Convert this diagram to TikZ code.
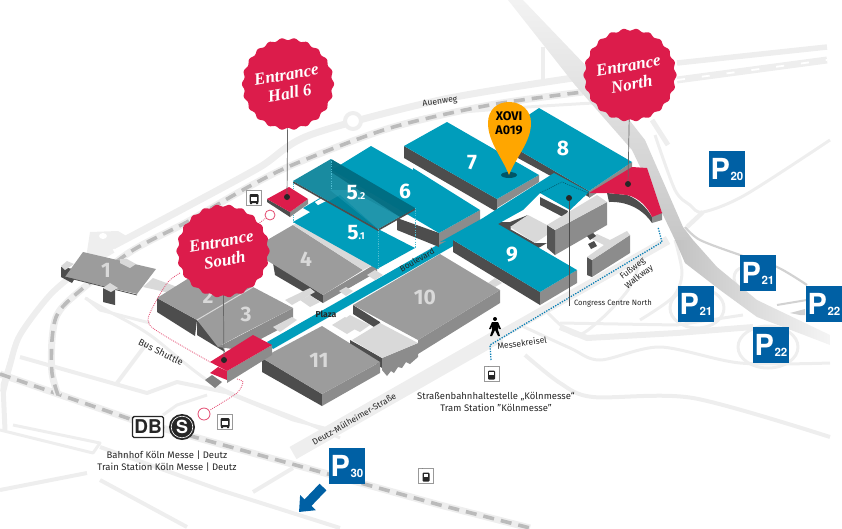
\documentclass[tikz,border=0pt]{standalone}
\usepackage{fontspec}
\setmainfont{Fira Sans}
\newfontfamily\signfont{TeX Gyre Heros}
\newfontfamily\sealfont{Liberation Serif}
\usetikzlibrary{arrows.meta}
\definecolor{hallteal}{HTML}{009DBB}
\definecolor{sealred}{HTML}{DC1C4B}
\definecolor{halltop}{HTML}{9C9C9C}
\definecolor{hallside}{HTML}{8C8C8C}
\definecolor{halldark}{HTML}{4D4D4D}
\definecolor{halllight}{HTML}{D9D9D9}
\definecolor{roadgray}{HTML}{EEEEEE}
\definecolor{railgray}{HTML}{BBBBBB}
\definecolor{parkblue}{HTML}{0060A4}
\definecolor{pinorange}{HTML}{FFA600}
\definecolor{walkblue}{HTML}{0A7FB5}
\tikzset{
  roadthin/.style={draw=roadgray,line width=3pt,line join=round},
  roadwide/.style={draw=roadgray,line width=7pt,line join=round},
  raildash/.style={draw=railgray,line width=3.6pt,dash pattern=on 11pt off 7pt},
  shuttle/.style={draw=sealred!80,line width=.8pt,dash pattern=on .9pt off 1.1pt},
  walkway/.style={draw=walkblue,line width=1.3pt,dash pattern=on 1.3pt off 1.3pt},
  dropline/.style={draw=hallteal!70,line width=.5pt,dash pattern=on 1.2pt off 1.2pt},
  pole/.style={draw=gray!80!black,line width=.7pt},
  markdot/.style={circle,fill=black!85,minimum size=6pt,inner sep=0pt},
  hallno/.style={text=#1,font=\fontsize{21}{21}\selectfont\bfseries,inner sep=0pt},
  maplabel/.style={text=black!85,font=\fontsize{8.6}{10.5}\selectfont,inner sep=0pt,align=center},
  parkbox/.style={fill=parkblue,minimum size=36pt,inner sep=0pt,text=white,font=\signfont\bfseries},
  iconbox/.style={draw=gray!80,fill=white,line width=.8pt,minimum size=15pt,inner sep=0pt},
  sealtext/.style={text=white,font=\sealfont\itshape\bfseries\fontsize{17}{19}\selectfont,align=center,rotate=10,inner sep=0pt},
}
\newcommand{\sealat}[3]{\fill[sealred] plot[domain=0:360,samples=199] ({#1+(#3+1.1*cos(22*\x))*cos(\x)},{#2+(#3+1.1*cos(22*\x))*sin(\x)}) -- cycle;}
\newcommand{\parksign}[4]{\node[parkbox] (#1) at (#2,#3) {\fontsize{29}{29}\selectfont P\kern.5pt\fontsize{11.5}{11.5}\selectfont\raisebox{-1pt}{#4}};}
\newcommand{\busicon}[1]{\fill[black!85,rounded corners=1pt] ([shift={(-4.5pt,-5pt)}]#1) rectangle ([shift={(4.5pt,4pt)}]#1);
  \fill[white] ([shift={(-3.2pt,-3pt)}]#1) rectangle ([shift={(3.2pt,1pt)}]#1);
  \fill[black!85] ([shift={(-4pt,-6pt)}]#1) rectangle ([shift={(-2pt,-4pt)}]#1) ([shift={(2pt,-6pt)}]#1) rectangle ([shift={(4pt,-4pt)}]#1);}
\newcommand{\tramicon}[1]{\fill[black!85,rounded corners=1pt] ([shift={(-3.5pt,-5.5pt)}]#1) rectangle ([shift={(3.5pt,3.5pt)}]#1);
  \fill[white] ([shift={(-2.4pt,-1pt)}]#1) rectangle ([shift={(2.4pt,2.4pt)}]#1);
  \draw[black!85,line width=.6pt] ([shift={(-2.5pt,5.5pt)}]#1) -- ([shift={(2.5pt,5.5pt)}]#1) ([yshift=5.5pt]#1) -- ([yshift=3.5pt]#1);}
\begin{document}
\begin{tikzpicture}[x=1pt,y=-1pt]
\useasboundingbox (0,0) rectangle (842,528);
% roads, north
\draw[roadwide] plot[smooth] coordinates {(113,246) (190,205) (260,167) (310,135) (440,100) (573,78)};
\draw[roadwide,line width=5.5pt] (677,63) -- (827,47);
\draw[roadwide] (677,80) -- (827,60);
\draw[white,line width=1.8pt,dash pattern=on 8pt off 17pt] (677,80) -- (827,60);
\draw[roadthin] plot[smooth] coordinates {(340,145) (420,118) (500,109) (593,103)};
\draw[roadwide,line width=4.5pt] (543,47) -- (543,80);
% roads, west
\draw[roadwide,line width=6pt] plot[smooth] coordinates {(3,392) (10,365) (20,335) (50,295) (80,270) (113,250)};
\fill[roadgray] (90,232) -- (118,231) -- (130,238) -- (100,258) -- (86,258) -- cycle;
\fill[white] (103,236) ellipse (4pt and 3pt);
\draw[roadwide,line width=4pt,fill=white] (353,121) circle (8pt);
\draw[roadthin] (86,298) -- (100,310) -- (150,323);
\draw[roadthin] plot[smooth] coordinates {(85,298) (110,312) (150,335) (215,385) (300,420) (340,438)};
\draw[roadwide,line width=5pt] (17,340) -- (3,385) -- (5,430);
\draw[roadthin,line width=4pt] (20,357) -- (147,393) -- (177,382) -- (225,392);
\draw[roadthin,line width=4pt] (117,383) -- (147,343);
\draw[roadthin] (163,415) -- (177,405) -- (207,395);
\draw[roadthin] (0,430) -- (93,453) -- (100,443) -- (13,425);
\draw[roadthin,line width=4pt] (0,490) -- (87,473);
\draw[roadthin,line width=4pt] (100,480) -- (187,527) (253,492) -- (293,468);
\draw[roadthin,line width=4pt] (100,447) -- (220,490) -- (340,528);
% rails
\draw[roadwide,line width=7pt] (0,374) -- (133,420) -- (440,505) -- (530,528);
\draw[raildash] (0,374) -- (133,420) -- (440,505) -- (530,528);
\draw[roadwide] plot[smooth] coordinates {(58,395) (52,373) (52,340) (57,315) (75,295) (130,252) (187,222) (250,186) (297,163) (390,128) (490,105) (583,92)};
\draw[raildash] plot[smooth] coordinates {(58,395) (52,373) (52,340) (57,315) (75,295) (130,252) (187,222) (250,186) (297,163) (390,128) (490,105) (583,92)};
% roads, centre and east
\draw[roadwide,line width=14pt] (293,453) -- (500,335);
\draw[roadwide,line width=9pt] (500,335) -- (668,240);
\draw[roadthin] (215,388) -- (293,420) -- (340,432);
\draw[roadthin] plot[smooth] coordinates {(655,135) (675,190) (690,205) (703,212) (745,195) (830,140)};
\draw[roadthin,line width=4.5pt] (687,227) -- (703,212);
\draw[roadthin] plot[smooth] coordinates {(675,240) (682,273) (673,297) (640,320)};
\draw[roadthin] plot[smooth] coordinates {(640,262) (628,290) (600,320) (575,335) (545,310)};
\draw[roadthin] plot[smooth] coordinates {(520,325) (570,348) (600,360) (660,347) (740,363) (830,363)};
\draw[roadthin,line width=4pt] plot[smooth] coordinates {(525,355) (560,383) (593,397) (693,398) (830,437)};
\draw[roadwide,line width=6pt] (560,327) -- (587,338) -- (677,333) -- (753,327);
\draw[roadthin] (560,323) -- (677,325) -- (743,315);
\draw[roadthin] (697,308) ellipse (27pt and 20pt) (768,347) ellipse (30pt and 21pt) (742,278) ellipse (8pt and 10pt);
\draw[gray!35,line width=2pt] (777,305) -- (807,300);
\fill[gray!35] (790,313) -- (805,309) -- (805,315) -- (800,315) -- cycle;
\draw[gray!35,line width=2.2pt] plot[smooth] coordinates {(685,227) (700,240) (740,255) (777,267) (807,285)};
% overpass
\shade[top color=black!5,bottom color=black!22] (508,0) -- (575,85) -- (632,150) -- (675,240) -- (693,240) -- (683,227) -- (645,140) -- (590,70) -- (523,0) -- cycle;
\shade[left color=black!24,right color=black!4] (675,240) -- (685,263) -- (720,290) -- (757,317) -- (830,345) -- (830,335) -- (757,300) -- (717,267) -- (693,240) -- cycle;
\draw[roadthin,line width=5pt] (652,120) -- (668,145);
% hall 1
\fill[halllight] (143,287) -- (153,278) -- (180,288) -- (170,293) -- cycle;
\fill[halldark] (61,267) -- (61,277) -- (72,283) -- (80,270) -- cycle;
\fill[halldark] (103,288) -- (103,302) -- (115,305) -- (115,290) -- cycle;
\fill[halltop] (83,252) -- (156,269) -- (137,294) -- (65,277) -- cycle;
\draw[halldark,line width=.8pt] (65,277) -- (137,295);
\fill[halllight] (120,259) -- (127,259) -- (136,264) -- (130,268) -- (120,263) -- cycle;
\fill[halllight] (103,288) -- (110,283) -- (118,288) -- (111,292) -- cycle;
\fill[halllight] (61,266) -- (67,261) -- (74,264) -- (65,270) -- cycle;
% halls 2 and 3
\fill[halldark] (157,298) -- (157,312) -- (195,336) -- (197,320) -- cycle;
\fill[halltop] (157,298) -- (205,268) -- (253,287) -- (197,320) -- cycle;
\fill[halldark] (197,320) -- (197,335) -- (225,352) -- (222,345) -- cycle;
\fill[hallside] (218,347) -- (293,308) -- (293,322) -- (240,350) -- cycle;
\fill[halltop] (197,320) -- (253,287) -- (293,308) -- (240,335) -- (218,347) -- cycle;
\draw[halllight,line width=1pt] (197,320) -- (253,287);
% hall 4
\fill[halldark] (273,263) -- (275,275) -- (323,303) -- (323,295) -- cycle;
\fill[hallside] (323,295) -- (323,303) -- (377,272) -- (377,263) -- cycle;
\fill[halltop] (250,250) -- (293,225) -- (363,270) -- (323,295) -- cycle;
\fill[halllight] (293,225) -- (302,220) -- (377,263) -- (363,270) -- cycle;
% plaza links
\fill[halllight] (285,300) -- (310,288) -- (315,292) -- (292,305) -- cycle;
\fill[halllight] (273,327) -- (292,317) -- (297,320) -- (280,332) -- cycle;
\fill[halllight] (300,300) -- (310,295) -- (320,302) -- (310,307) -- cycle;
\fill[halllight] (332,325) -- (345,317) -- (360,326) -- (347,334) -- cycle;
\fill[halllight] (340,322) -- (350,315) -- (370,325) -- (360,332) -- cycle;
% hall 5.1
\fill[hallteal] (293,222) -- (340,195) -- (378,229) -- (415,248) -- (377,269) -- cycle;
\fill[hallteal] (303,208) -- (320,198) -- (335,205) -- (317,216) -- cycle;
\fill[white] (315,202) -- (322,198) -- (326,201) -- (318,205) -- cycle;
% boulevard
\fill[hallteal] (267,342) -- (453,236) -- (455,245) -- (273,349) -- cycle;
\fill[halllight] (367,275) -- (375,270) -- (383,275) -- (375,280) -- cycle;
\fill[halllight] (339,291) -- (346,287) -- (353,291) -- (346,296) -- cycle;
% hall 6
\fill[halldark] (397,218) -- (397,230) -- (439,247) -- (439,233) -- cycle;
\fill[hallside] (439,233) -- (439,245) -- (480,222) -- (480,210) -- cycle;
\fill[hallteal] (371,146) -- (413,170) -- (413,168) -- (480,210) -- (439,233) -- (332,170) -- cycle;
% hall 5.2 over 5.1 and 6
\fill[halldark] (293,181) -- (378,229) -- (415,208) -- (415,210) -- (378,231) -- (293,183) -- cycle;
\fill[black!20!hallteal,opacity=.9] (331,159) -- (415,208) -- (378,229) -- (293,181) -- cycle;
\fill[black!35!hallteal,opacity=.7] (331,159) -- (415,208) -- (400,217) -- (331,172) -- cycle;
\fill[hallteal!80!white,opacity=.3] (330,190) -- (378,229) -- (400,217) -- (350,190) -- cycle;
\draw[dropline] (293,181) -- (293,222) (378,229) -- (378,269) (415,208) -- (415,248) (331,159) -- (331,190);
% hall 7
\fill[halldark] (404,146) -- (404,158) -- (497,212) -- (497,199) -- cycle;
\fill[hallside] (497,199) -- (497,208) -- (539,182) -- (539,175) -- cycle;
\fill[hallteal] (447,122) -- (539,175) -- (497,199) -- (404,146) -- cycle;
% hall 8
\fill[halldark] (496,137) -- (496,146) -- (589,197) -- (589,191) -- cycle;
\fill[hallside] (589,191) -- (589,198) -- (632,170) -- (632,162) -- cycle;
\fill[hallteal] (539,108) -- (632,162) -- (589,191) -- (496,137) -- cycle;
% entrance north
\fill[halldark] (607,193) -- (627,195) .. controls (640,200) and (648,210) .. (652,217) -- (652,223) .. controls (645,212) and (630,201) .. (609,202) -- cycle;
\fill[hallside] (652,215) -- (662,212) -- (662,220) -- (652,223) -- cycle;
\fill[sealred] (589,193) -- (632,167) -- (647,168) -- (662,213) -- (652,217) .. controls (648,208) and (640,198) .. (627,195) -- (607,193) -- cycle;
% hall 9 and band
\fill[halldark] (453,240) -- (453,252) -- (540,305) -- (540,292) -- cycle;
\fill[hallside] (540,292) -- (540,305) -- (577,283) -- (577,270) -- cycle;
\fill[halldark] (497,222) -- (497,228) -- (535,250) -- (547,243) -- (535,243) -- (510,229) -- (528,215) -- (510,222) -- cycle;
\fill[halllight] (510,227) -- (528,215) -- (547,225) -- (547,235) -- (535,243) -- cycle;
\fill[halldark] (540,197) -- (540,205) -- (565,218) -- (568,211) -- cycle;
\fill[hallteal] (440,242) -- (483,218) -- (497,209) -- (554,173) -- (589,192) -- (570,210) -- (540,193) -- (523,210) -- (505,220) -- (498,224) -- (577,270) -- (540,292) -- (453,240) -- cycle;
\draw[black!50!hallteal,line width=.5pt,dash pattern=on 1pt off 1pt] (540,193) -- (562,182) -- (588,193);
% congress centre
\fill[hallside] (555,230) -- (555,255) -- (607,225) -- (607,202) -- cycle;
\fill[halldark!85!gray] (547,225) -- (547,248) -- (555,255) -- (555,230) -- cycle;
\fill[halllight] (547,225) -- (597,195) -- (607,202) -- (555,230) -- cycle;
% small building
\fill[hallside] (592,260) -- (592,277) -- (630,253) -- (630,235) -- cycle;
\fill[halldark!85!gray] (587,257) -- (587,275) -- (592,277) -- (592,260) -- cycle;
\fill[halllight] (587,257) -- (604,245) -- (590,238) -- (597,234) -- (610,240) -- (627,231) -- (630,235) -- (592,260) -- cycle;
\fill[halldark] (587,236) -- (593,233) -- (596,236) -- (590,240) -- cycle (588,244) -- (594,241) -- (597,246) -- (591,249) -- cycle;
% hall 10
\fill[halllight] (488,283) -- (495,278) -- (502,283) -- (495,287) -- cycle;
\fill[halldark] (353,305) -- (353,314) -- (382,332) -- (380,322) -- cycle;
\fill[hallside] (418,340) -- (500,290) -- (500,303) -- (418,354) -- cycle;
\fill[halltop] (440,254) -- (500,290) -- (418,340) -- (353,305) -- cycle;
\fill[halldark] (350,340) -- (350,346) -- (382,368) -- (382,358) -- cycle;
\fill[hallside] (382,358) -- (382,370) -- (387,376) -- (391,371) -- (394,373) -- (398,367) -- (402,368) -- (406,362) -- (410,364) -- (418,357) -- (418,343) -- cycle;
\fill[halllight] (352,340) -- (380,323) -- (418,343) -- (382,358) -- cycle;
% hall 11
\fill[halldark] (262,358) -- (262,372) -- (322,406) -- (322,394) -- cycle;
\fill[hallside] (322,394) -- (322,406) -- (380,373) -- (380,362) -- cycle;
\fill[halltop] (262,358) -- (322,326) -- (380,362) -- (322,394) -- cycle;
% entrance south
\fill[gray] (205,380) -- (212,375) -- (222,382) -- (215,388) -- cycle;
\fill[sealred] (210,373) -- (218,367) -- (227,371) -- (227,380) -- cycle;
\fill[hallside] (227,371) -- (272,345) -- (272,355) -- (227,383) -- cycle;
\fill[sealred] (210,362) -- (253,335) -- (272,345) -- (227,371) -- cycle;
% entrance hall 6 pad
\fill[hallside] (290,212) -- (308,199) -- (308,204) -- (290,217) -- cycle;
\fill[halldark] (267,199) -- (267,202) -- (290,217) -- (290,212) -- cycle;
\fill[sealred] (267,199) -- (289,187) -- (308,199) -- (290,212) -- cycle;
% hall numbers
\node[hallno=halllight] (noone) at (106,270) {1};
\node[hallno=halllight] (notwo) at (208,296) {2};
\node[hallno=halllight] (nothree) at (246,314) {3};
\node[hallno=halllight] (nofour) at (306,259) {4};
\node[hallno=halllight] (noten) at (425,297) {10};
\node[hallno=halllight] (noeleven) at (319,360) {11};
\node[hallno=white] (nofivetwo) at (356,193) {5{\fontsize{10}{10}\selectfont.2}};
\node[hallno=white] (nofiveone) at (356,233) {5{\fontsize{10}{10}\selectfont.1}};
\node[hallno=white] (nosix) at (405,191) {6};
\node[hallno=white] (noseven) at (472,163) {7};
\node[hallno=white] (noeight) at (563,148) {8};
\node[hallno=white] (nonine) at (512,255) {9};
% dotted ways
\coordinate (ringbus) at (270,215);
\coordinate (ringrail) at (204,414);
\coordinate (busshuttle) at (210,362);
\coordinate (southend) at (237,379);
\coordinate (sealsouthside) at (180,273);
\draw[shuttle] (ringbus) -- (258,224);
\draw[shuttle] plot[smooth,tension=.5] coordinates {(sealsouthside) (168,282) (155,303) (148,320) (157,331) (busshuttle)};
\draw[shuttle] plot[smooth,tension=.4] coordinates {(southend) (243,382) (237,393) (210,410)};
\draw[shuttle,solid,fill=white] (ringbus) circle (5pt) (ringrail) circle (6pt);
\coordinate (walkstart) at (491,360);
\coordinate (walkcorner) at (490,345);
\coordinate (walkturn) at (662,242);
\coordinate (walkend) at (658,227);
\draw[walkway] (walkstart) -- (walkcorner) -- (walkturn) -- (walkend);
% seals and markers
\coordinate (sealsix) at (288,84);
\coordinate (sealnorth) at (630,75);
\coordinate (sealsouth) at (223,251);
\node[markdot] (dotsix) at (287,197) {};
\node[markdot] (dotnorth) at (628,184) {};
\node[markdot] (dotsouth) at (224,360) {};
\node[markdot] (dotcongress) at (569,198) {};
\coordinate (congressfoot) at (569,306);
\draw[pole] (sealsix) -- (dotsix);
\draw[pole] (sealnorth) -- (dotnorth);
\draw[pole] (sealsouth) -- (dotsouth);
\draw[pole,line width=.5pt,black!70] (dotcongress) -- (congressfoot);
\sealat{288}{84}{45}
\sealat{630}{75}{45.5}
\sealat{223}{251}{45.5}
\node[sealtext] (textsix) at (sealsix) {Entrance\\Hall 6};
\node[sealtext] (textnorth) at (sealnorth) {Entrance\\North};
\node[sealtext] (textsouth) at (sealsouth) {Entrance\\South};
% pin
\fill[black!45!hallteal] (509,175) ellipse (8pt and 3pt);
\fill[pinorange] (509,175) .. controls (502,157) and (488,142) .. (488,123) .. controls (488,110) and (497,102) .. (509,102) .. controls (521,102) and (531,110) .. (531,123) .. controls (531,142) and (516,157) .. (509,175) -- cycle;
\node[font=\fontsize{12.5}{13.5}\selectfont\bfseries,align=center,inner sep=0pt,text=black] (pinlabel) at (509,123) {XOVI\\A019};
% parking
\parksign{parktwenty}{727}{169}{20}
\parksign{parkruhr}{758}{273}{21}
\parksign{parkwest}{696}{304}{21}
\parksign{parkeast}{824}{304}{22}
\parksign{parksouth}{771}{345}{22}
\parksign{parkthirty}{347}{466}{30}
\coordinate (arrowtail) at (323,487);
\coordinate (arrowtip) at (299,512);
\draw[parkblue,line width=9.5pt,-{Triangle[length=13pt,width=21pt]}] (arrowtail) -- (arrowtip);
% icons
\node[iconbox] (busnorth) at (254,198) {};
\busicon{busnorth}
\node[iconbox] (busrail) at (225,422) {};
\busicon{busrail}
\node[iconbox] (tramone) at (491.5,374) {};
\tramicon{tramone}
\node[iconbox] (tramtwo) at (426,476) {};
\tramicon{tramtwo}
% rail logos
\node[draw=black!85,line width=1.4pt,rounded corners=1.5pt,minimum width=31pt,minimum height=21pt,inner sep=0pt,fill=white,font=\signfont\bfseries\fontsize{19}{19}\selectfont,text=black!85] (dblogo) at (148,427) {DB};
\node[circle,fill=black!85,minimum size=26pt,inner sep=0pt,text=white,font=\signfont\bfseries\fontsize{18}{18}\selectfont] (slogo) at (182,427) {S};
\draw[white,line width=.6pt] (slogo) circle (10.8pt);
% person
\coordinate (walkerhead) at (495,319);
\fill[black] (walkerhead) circle (2pt);
\fill[black] (492,322) -- (498,322) -- (501,329) -- (499,329) -- (498,326) -- (498,330) -- (500,336) -- (498,336) -- (495,330) -- (492,336) -- (490,336) -- (492,330) -- (492,326) -- (491,329) -- (489,329) -- cycle;
% labels
\node[maplabel,rotate=8] (auenweg) at (440,102) {Auenweg};
\node[maplabel,rotate=-27,font=\fontsize{9.4}{10.5}\selectfont] (busshuttlelabel) at (161,352) {Bus Shuttle};
\node[maplabel,rotate=30,font=\fontsize{8.4}{9}\selectfont] (boulevard) at (417,260) {Boulevard};
\node[maplabel,font=\fontsize{8.6}{9}\selectfont\bfseries] (plaza) at (326,314) {Plaza};
\node[maplabel,rotate=8] (kreisel) at (522,343) {Messekreisel};
\node[maplabel,font=\fontsize{7.7}{9}\selectfont] (congress) at (613,303) {Congress Centre North};
\node[maplabel,rotate=38] (fussweg) at (636,273) {Fußweg\\Walkway};
\node[maplabel,font=\fontsize{9.5}{12}\selectfont] (tramlabel) at (496,402) {Straßenbahnhaltestelle „Kölnmesse“\\Tram Station "Kölnmesse"};
\node[maplabel,font=\fontsize{9.5}{12}\selectfont] (raillabel) at (167,461) {Bahnhof Köln Messe | Deutz\\Train Station Köln Messe | Deutz};
\node[maplabel,rotate=30] (deutz) at (354,419) {Deutz-Mülheimer-Straße};
\end{tikzpicture}
\end{document}
